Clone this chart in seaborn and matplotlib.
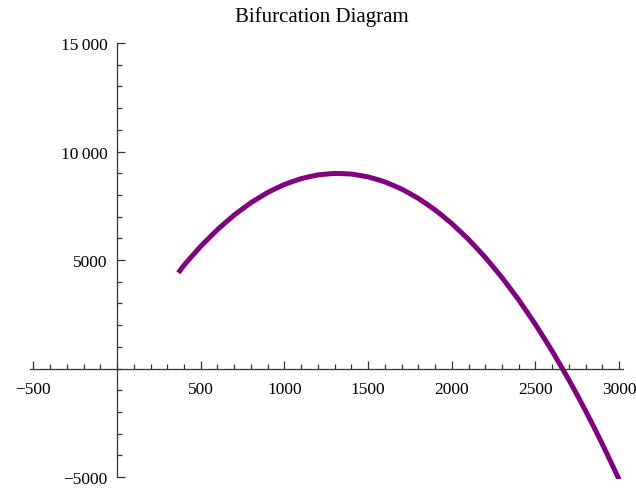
import matplotlib
matplotlib.use("Agg")
import matplotlib.pyplot as plt
import seaborn as sns
import pandas as pd
from matplotlib.ticker import FixedLocator

sns.set_style("white")
plt.rcParams['font.family'] = ['Liberation Serif', 'DejaVu Serif']

# Data
x_vals = [366, 400, 450, 500, 550, 600, 650, 700, 750, 800, 850, 900, 950, 1000,
          1050, 1100, 1150, 1200, 1250, 1300, 1350, 1400, 1450, 1500, 1550, 1600,
          1650, 1700, 1750, 1800, 1850, 1900, 1950, 2000, 2050, 2100, 2150, 2200,
          2250, 2300, 2350, 2400, 2450, 2500, 2550, 2600, 2650, 2700, 2750, 2800,
          2850, 2900, 2950, 3000]
y_vals = [4410, 4760, 5200, 5630, 6020, 6400, 6740, 7070, 7360, 7640, 7880, 8110,
          8300, 8480, 8620, 8750, 8840, 8920, 8960, 8990, 8980, 8960, 8900, 8830,
          8720, 8600, 8440, 8270, 8060, 7840, 7580, 7310, 7000, 6680, 6320, 5950,
          5540, 5120, 4660, 4190, 3680, 3160, 2600, 2030, 1420, 800, 140, -530,
          -1230, -1960, -2710, -3490, -4300, -5120]

x_major = [-500, 500, 1000, 1500, 2000, 2500, 3000]
x_labels = ["\u2212500", "500", "1000", "1500", "2000", "2500", "3000"]
y_major = [-5000, 5000, 10000, 15000]
y_labels = ["\u22125000", "5000", "10\u2009000", "15\u2009000"]
title = "Bifurcation Diagram"

df = pd.DataFrame({"x": x_vals, "y": y_vals})

fig = plt.figure(figsize=(6.36, 4.89), dpi=100)
ax = fig.add_axes([30/636, 1 - 480.2/489, 592.5/636, 436.2/489])

sns.lineplot(data=df, x="x", y="y", sort=False, color="#800080", linewidth=3.6,
             ax=ax, legend=False)
for ln in ax.get_lines():
    ln.set_solid_capstyle("butt")
    ln.set_solid_joinstyle("round")

ax.set_xlim(-520, 3020)
ax.set_ylim(-5100, 15000)

for s in ["top", "right"]:
    ax.spines[s].set_visible(False)
ax.spines["left"].set_position(("data", 0))
ax.spines["bottom"].set_position(("data", 0))
ax.spines["left"].set_bounds(-5000, 15000)
for s in ["left", "bottom"]:
    ax.spines[s].set_color("#333333")
    ax.spines[s].set_linewidth(0.9)

ax.xaxis.set_major_locator(FixedLocator(x_major))
ax.set_xticklabels(x_labels)
ax.xaxis.set_minor_locator(FixedLocator([v for v in range(-500, 3001, 100) if v % 500 != 0] + [0]))
ax.yaxis.set_major_locator(FixedLocator(y_major))
ax.set_yticklabels(y_labels)
ax.yaxis.set_minor_locator(FixedLocator([v for v in range(-5000, 15001, 1000) if v % 5000 != 0] + [0]))

ax.tick_params(axis="both", which="both", bottom=True, left=True, top=False, right=False)
ax.tick_params(axis="both", which="major", direction="in", length=6, width=0.9,
               color="#333333", labelsize=12.5, labelcolor="black")
ax.tick_params(axis="both", which="minor", direction="in", length=3.5, width=0.9,
               color="#333333")
ax.tick_params(axis="x", which="major", pad=9)
ax.tick_params(axis="y", which="major", pad=7)
ax.set_xlabel("")
ax.set_ylabel("")

fig.text(322/636, 1 - 17/489, title, ha="center", va="center", fontsize=15,
         color="black")

fig.savefig("out.png", dpi=100)
